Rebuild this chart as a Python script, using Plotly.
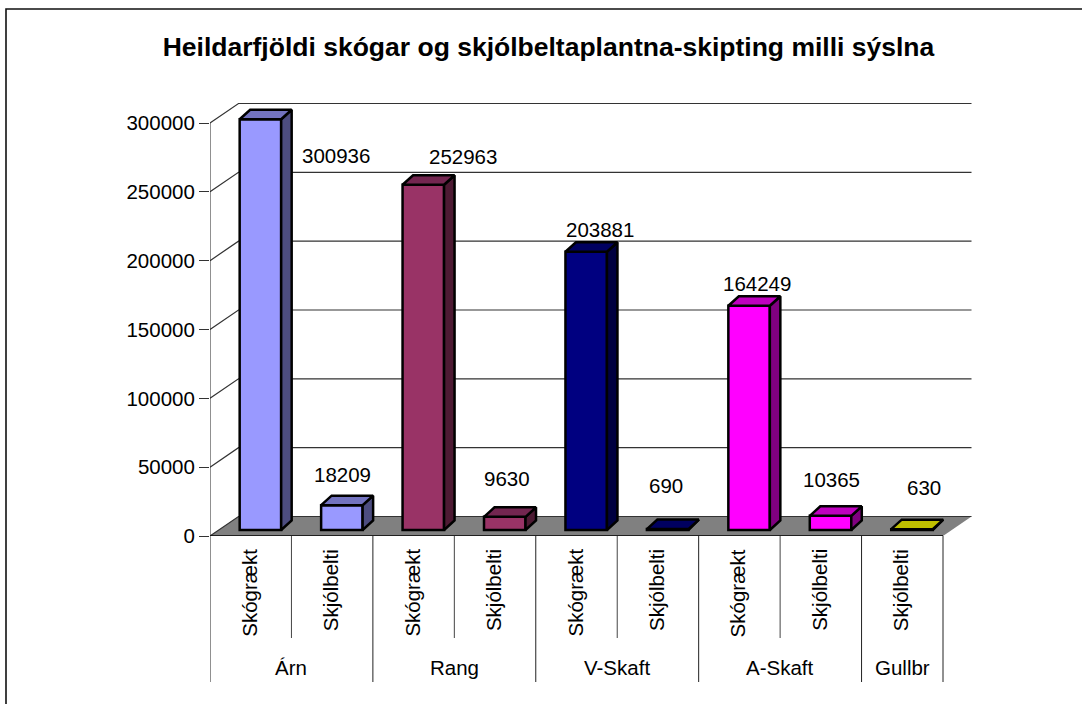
import plotly.graph_objects as go

groups = ["Árn", "Rang", "V-Skaft", "A-Skaft", "Gullbr"]
group_sizes = [2, 2, 2, 2, 1]
categories = ["Skógrækt", "Skjólbelti", "Skógrækt", "Skjólbelti", "Skógrækt",
              "Skjólbelti", "Skógrækt", "Skjólbelti", "Skjólbelti"]
values = [300936, 18209, 252963, 9630, 203881, 690, 164249, 10365, 630]
y_ticks = [0, 50000, 100000, 150000, 200000, 250000, 300000]

group_colors = [("#9999FF", "#4D4D80", "#7373BF"), ("#993366", "#4D1A33", "#732650"),
                ("#000080", "#000040", "#000060"), ("#FF00FF", "#800080", "#BF00BF"),
                ("#CCCC00", "#666600", "#BFBF00")]

W, H = 1082, 704
L, R, T, B = 210, 975, 100, 536      # plot rectangle, px
CAT_W = (943 - 210) / 9
DX, DY = 28.5 / CAT_W, 19.5          # wall depth
K_AXIS = 413 / 300000                # px per unit, axis
K_BAR = 1.365 / 1000                 # px per unit, bars (front of the floor is nearer)
BAR_BOTTOM = 530
xr = (R - L) / CAT_W
y_top = (B - T) / K_AXIS
y2_lo = -(B - BAR_BOTTOM) / K_BAR
y2_hi = (BAR_BOTTOM - T) / K_BAR
dY = DY / K_AXIS
BAR_W = 41.5 / CAT_W
BAR_OFF = 0.5 + 9.7 / CAT_W
bdx = 10.5 / CAT_W
bdy = 9.5 / K_BAR

fig = go.Figure()

# floor
fig.add_trace(go.Scatter(x=[0, 9, 9 + DX, DX, 0], y=[0, 0, dY, dY, 0], fill="toself",
                         fillcolor="#808080", mode="none", hoverinfo="skip", showlegend=False))
# wall grid lines
for t in y_ticks:
    fig.add_trace(go.Scatter(x=[0, DX, 9 + DX], y=[t, t + dY, t + dY], mode="lines", cliponaxis=False,
                             line=dict(color="#333333", width=1.2),
                             hoverinfo="skip", showlegend=False))
# front edge of floor
fig.add_trace(go.Scatter(x=[0, 9], y=[0, 0], mode="lines", line=dict(color="black", width=1.5),
                         cliponaxis=False, hoverinfo="skip", showlegend=False))

# bars
colors = []
for g, n in enumerate(group_sizes):
    colors += [group_colors[g]] * n
centers = [i + BAR_OFF for i in range(len(values))]
for c, v, col in zip(centers, values, colors):
    xl, xr_ = c - BAR_W / 2, c + BAR_W / 2
    fig.add_trace(go.Scatter(x=[xr_, xr_ + bdx, xr_ + bdx, xr_, xr_], y=[0, bdy, v + bdy, v, 0],
                             yaxis="y2", fill="toself", fillcolor=col[1], mode="lines",
                             line=dict(color="black", width=2.5), hoverinfo="skip", showlegend=False))
    fig.add_trace(go.Scatter(x=[xl, xr_, xr_ + bdx, xl + bdx, xl], y=[v, v, v + bdy, v + bdy, v],
                             yaxis="y2", fill="toself", fillcolor=col[2], mode="lines",
                             line=dict(color="black", width=2.5), hoverinfo="skip", showlegend=False))
fig.add_trace(go.Bar(x=centers, y=values, width=BAR_W, yaxis="y2",
                     marker=dict(color=[c[0] for c in colors], line=dict(color="black", width=2.5)),
                     showlegend=False))

# value labels
label_shift = [(75.6, -35.8), (1, 31), (40, 28), (2, 38), (14, 22), (-2, 44), (7.5, 22), (0.5, 36), (12, 42)]
font = dict(family="Liberation Sans, Arial, sans-serif", color="black", size=20.5)
annotations = []
for c, v, (sx, sy) in zip(centers, values, label_shift):
    annotations.append(dict(x=c, y=v, xref="x", yref="y2", text=str(v), showarrow=False,
                            xshift=sx, yshift=sy, font=font))


def py(px):
    return (B - px) / (B - T)


# outer frame: only its top and left edges fall inside the picture
shapes = [dict(type="rect", xref="paper", yref="paper", x0=(6 - L) / (R - L), x1=(1200 - L) / (R - L),
               y0=py(800), y1=py(9), line=dict(color="#111111", width=1.6), layer="below")]
pos = 0
shapes.append(dict(type="line", xref="x", yref="paper", x0=0, x1=0, y0=py(B), y1=py(682),
                   line=dict(color="#222222", width=1)))
for g, n in zip(groups, group_sizes):
    for k in range(1, n):
        shapes.append(dict(type="line", xref="x", yref="paper", x0=pos + k, x1=pos + k, y0=py(B), y1=py(638),
                           line=dict(color="#444444", width=1)))
    annotations.append(dict(x=pos + n / 2, y=py(667), xref="x", yref="paper", yanchor="middle", text=g,
                            showarrow=False, font=font))
    pos += n
    shapes.append(dict(type="line", xref="x", yref="paper", x0=pos, x1=pos, y0=py(B), y1=py(682),
                       line=dict(color="#222222", width=1)))
for i, c in enumerate(categories):
    annotations.append(dict(x=i + 0.5, y=py(547), xref="x", yref="paper", yanchor="top", text=c, textangle=-90,
                            xshift=-2, showarrow=False, font=font))

fig.update_layout(
    width=W, height=H, autosize=False, paper_bgcolor="white", plot_bgcolor="white",
    margin=dict(l=L, r=W - R, t=T, b=H - B), showlegend=False,
    title=dict(text="<b>Heildarfjöldi skógar og skjólbeltaplantna-skipting milli sýslna</b>",
               x=(162 + 935) / 2 / W, xanchor="center", y=1 - 47 / H, yanchor="middle",
               font=dict(family="Liberation Sans, Arial, sans-serif", size=26.5, color="black")),
    xaxis=dict(range=[0, xr], showgrid=False, zeroline=False, showticklabels=False, ticks=""),
    yaxis=dict(range=[0, y_top], tickvals=y_ticks, tickformat="d", showgrid=False, zeroline=False,
               ticks="outside", ticklen=10, tickcolor="#333333", tickfont=font),
    yaxis2=dict(range=[y2_lo, y2_hi], overlaying="y", visible=False),
    shapes=shapes, annotations=annotations,
)
# y axis line from 0 to 300000 only
fig.add_shape(type="line", xref="x", yref="y", x0=0, x1=0, y0=0, y1=300000, line=dict(color="#222222", width=1))

fig.write_html("out.html", post_script="document.body.style.margin='0';", config={"displayModeBar": False})
